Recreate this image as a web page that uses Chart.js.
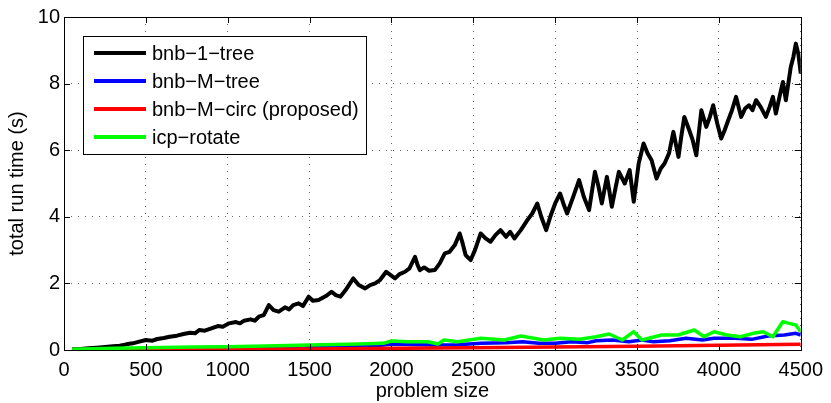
<!DOCTYPE html>
<html>
<head>
<meta charset="utf-8">
<script src="https://cdn.jsdelivr.net/npm/chart.js@4/dist/chart.umd.min.js"></script>
<style>
  html, body { margin: 0; padding: 0; background: #fff; }
  #wrap { width: 831px; height: 403px; }
</style>
</head>
<body>
<div id="wrap"><canvas id="runChart" width="831" height="403"></canvas></div>
<script>
// series (problem size -> total run time in s)
const seriesNames = ['bnb\u22121\u2212tree', 'bnb\u2212M\u2212tree', 'bnb\u2212M\u2212circ (proposed)', 'icp\u2212rotate'];
const seriesColors = ['#000000', '#0000ff', '#ff0000', '#00ff00'];

const oneTreeX = [50, 100, 150, 200, 250, 300, 340, 380, 420, 460, 500, 540, 570, 610, 645, 690, 730, 770, 800, 826,
  860, 900, 940, 970, 1008, 1050, 1075, 1100, 1140, 1165, 1190, 1220, 1251, 1280, 1312, 1350, 1375, 1400, 1433, 1460,
  1494, 1520, 1555, 1600, 1634, 1660, 1688, 1720, 1767, 1800, 1839, 1870, 1900, 1930, 1968, 1995, 2022, 2050, 2083, 2110,
  2144, 2160, 2174, 2200, 2230, 2265, 2295, 2326, 2355, 2387, 2417, 2435, 2453, 2484, 2510, 2545, 2575, 2605, 2635, 2666,
  2700, 2725, 2751, 2790, 2830, 2860, 2891, 2915, 2945, 2970, 3000, 3030, 3050, 3073, 3110, 3146, 3175, 3207, 3243, 3265,
  3285, 3316, 3330, 3346, 3370, 3389, 3425, 3455, 3480, 3510, 3540, 3565, 3589, 3619, 3645, 3668, 3695, 3722, 3753, 3770,
  3789, 3819, 3840, 3862, 3893, 3923, 3945, 3965, 3990, 4014, 4035, 4057, 4080, 4105, 4136, 4160, 4184, 4205, 4227, 4255,
  4287, 4310, 4330, 4348, 4370, 4391, 4409, 4439, 4455, 4470, 4485, 4500];
const oneTreeY = [0.02, 0.03, 0.05, 0.07, 0.09, 0.11, 0.13, 0.17, 0.2, 0.25, 0.3, 0.28, 0.33, 0.36, 0.4, 0.43, 0.48, 0.52, 0.5, 0.6,
  0.58, 0.65, 0.72, 0.7, 0.8, 0.84, 0.8, 0.88, 0.92, 0.88, 1.0, 1.05, 1.35, 1.2, 1.15, 1.28, 1.22, 1.35, 1.4, 1.32,
  1.6, 1.48, 1.5, 1.62, 1.75, 1.65, 1.6, 1.8, 2.15, 1.95, 1.85, 1.95, 2.0, 2.1, 2.35, 2.25, 2.15, 2.28, 2.35, 2.45,
  2.8, 2.55, 2.4, 2.48, 2.38, 2.4, 2.6, 2.9, 2.95, 3.15, 3.5, 3.2, 2.85, 2.7, 3.0, 3.5, 3.35, 3.25, 3.45, 3.6,
  3.4, 3.55, 3.35, 3.6, 3.9, 4.1, 4.4, 4.0, 3.6, 4.0, 4.4, 4.7, 4.4, 4.1, 4.6, 5.1, 4.6, 4.2, 5.35, 4.9,
  4.4, 5.2, 4.8, 4.3, 4.9, 5.35, 5.0, 5.4, 4.45, 5.6, 6.2, 5.9, 5.7, 5.15, 5.45, 5.6, 5.9, 6.55, 5.8, 6.4,
  7.0, 6.6, 6.3, 5.85, 7.2, 6.7, 7.0, 7.35, 6.8, 6.35, 6.6, 6.9, 7.2, 7.6, 7.0, 7.25, 7.35, 7.2, 7.5, 7.3,
  7.0, 7.3, 7.6, 7.1, 7.6, 8.05, 7.5, 8.5, 8.8, 9.2, 8.9, 8.3];

const mTreeX = [50, 300, 600, 1000, 1500, 1900, 2000, 2250, 2400, 2550, 2700, 2800, 2900, 3000, 3100, 3200, 3250, 3350, 3450,
  3530, 3600, 3700, 3800, 3900, 3970, 4100, 4200, 4300, 4400, 4470, 4500];
const mTreeY = [0.01, 0.03, 0.05, 0.08, 0.1, 0.12, 0.18, 0.15, 0.16, 0.2, 0.22, 0.25, 0.2, 0.2, 0.25, 0.22, 0.28, 0.3, 0.25,
  0.3, 0.25, 0.28, 0.35, 0.3, 0.35, 0.35, 0.32, 0.42, 0.45, 0.5, 0.45];

const mCircX = [50, 500, 1000, 1500, 2000, 2500, 3000, 3500, 4000, 4500];
const mCircY = [0.0, 0.01, 0.02, 0.03, 0.05, 0.07, 0.09, 0.11, 0.14, 0.17];

const icpX = [50, 300, 500, 800, 1000, 1300, 1500, 1800, 1950, 2000, 2100, 2223, 2284, 2320, 2405, 2545, 2690, 2790, 2870, 2930,
  3030, 3150, 3250, 3330, 3410, 3480, 3530, 3650, 3750, 3850, 3910, 3970, 4050, 4130, 4210, 4270, 4330, 4390, 4430, 4470, 4500];
const icpY = [0.02, 0.05, 0.07, 0.09, 0.1, 0.13, 0.15, 0.18, 0.2, 0.27, 0.25, 0.25, 0.18, 0.3, 0.25, 0.35, 0.3, 0.42, 0.35, 0.3,
  0.35, 0.32, 0.4, 0.48, 0.3, 0.55, 0.3, 0.45, 0.45, 0.6, 0.4, 0.55, 0.45, 0.4, 0.5, 0.55, 0.4, 0.85, 0.8, 0.75, 0.55];

const xTicks = [0, 500, 1000, 1500, 2000, 2500, 3000, 3500, 4000, 4500];
const yTicks = [0, 2, 4, 6, 8, 10];

const fontFamily = '"Liberation Sans", Arial, Helvetica, sans-serif';

function pairs(xs, ys) {
  return xs.map((x, i) => ({ x: x, y: ys[i] }));
}

const allX = [oneTreeX, mTreeX, mCircX, icpX];
const allY = [oneTreeY, mTreeY, mCircY, icpY];
const drawOrder = [3, 2, 1, 0]; // icp on top, like matlab

// matlab style box, inward ticks and the legend inside the axes
const matlabFrame = {
  id: 'matlabFrame',
  afterDatasetsDraw(chart) {
    const ctx = chart.ctx;
    const a = chart.chartArea;
    const xs = chart.scales.x, ys = chart.scales.y;
    ctx.save();
    ctx.strokeStyle = '#000';
    ctx.lineWidth = 1;
    ctx.beginPath();
    xTicks.forEach(v => {
      const px = Math.round(xs.getPixelForValue(v)) + 0.5;
      ctx.moveTo(px, a.bottom); ctx.lineTo(px, a.bottom - 6);
      ctx.moveTo(px, a.top); ctx.lineTo(px, a.top + 6);
    });
    yTicks.forEach(v => {
      const py = Math.round(ys.getPixelForValue(v)) + 0.5;
      ctx.moveTo(a.left, py); ctx.lineTo(a.left + 6, py);
      ctx.moveTo(a.right, py); ctx.lineTo(a.right - 6, py);
    });
    ctx.stroke();
    ctx.strokeRect(Math.round(a.left) + 0.5, Math.round(a.top) + 0.5,
      Math.round(a.right - a.left), Math.round(a.bottom - a.top));

    // legend
    const lx = 83.5, ly = 36.5, lw = 283, lh = 118;
    ctx.fillStyle = '#fff';
    ctx.fillRect(lx, ly, lw, lh);
    ctx.strokeRect(lx, ly, lw, lh);
    ctx.font = '20px ' + fontFamily;
    ctx.textBaseline = 'middle';
    ctx.textAlign = 'left';
    chart.data.datasets.forEach((ds, i) => {
      const yy = 53 + i * 28;
      ctx.strokeStyle = ds.borderColor;
      ctx.lineWidth = 4;
      ctx.beginPath();
      ctx.moveTo(94, yy); ctx.lineTo(146, yy);
      ctx.stroke();
      ctx.fillStyle = '#000';
      ctx.fillText(ds.label, 152, yy + 1);
    });
    ctx.restore();
  }
};

new Chart(document.getElementById('runChart'), {
  type: 'line',
  data: {
    datasets: seriesNames.map((name, i) => ({
      label: name,
      data: pairs(allX[i], allY[i]),
      borderColor: seriesColors[i],
      backgroundColor: seriesColors[i],
      borderWidth: i === 0 ? 4 : 3.5,
      borderJoinStyle: 'round',
      pointRadius: 0,
      tension: 0,
      fill: false,
      order: drawOrder[i]
    }))
  },
  options: {
    responsive: false,
    animation: false,
    layout: { padding: { top: 17, right: 26, bottom: 0, left: 0 } },
    plugins: { legend: { display: false }, tooltip: { enabled: false } },
    scales: {
      x: {
        type: 'linear',
        min: 0,
        max: 4500,
        afterBuildTicks: s => { s.ticks = xTicks.map(v => ({ value: v })); },
        afterFit: s => { s.height = 53; },
        grid: { color: '#666', lineWidth: 1, drawTicks: false },
        border: { display: false, dash: [1, 6] },
        ticks: { padding: 8, color: '#000', font: { family: fontFamily, size: 20 }, maxRotation: 0,
          callback: v => String(v) },
        title: { display: true, text: 'problem size', color: '#000',
          font: { family: fontFamily, size: 20 }, padding: { top: 0, bottom: 0 } }
      },
      y: {
        min: 0,
        max: 10,
        afterBuildTicks: s => { s.ticks = yTicks.map(v => ({ value: v })); },
        afterFit: s => { s.width = 64; },
        grid: { color: '#666', lineWidth: 1, drawTicks: false },
        border: { display: false, dash: [1, 6] },
        ticks: { padding: 4, color: '#000', font: { family: fontFamily, size: 20 },
          callback: v => String(v) },
        title: { display: true, text: 'total run time (s)', color: '#000',
          font: { family: fontFamily, size: 20 }, padding: { top: 5, bottom: 0 } }
      }
    }
  },
  plugins: [matlabFrame]
});
</script>
</body>
</html>
